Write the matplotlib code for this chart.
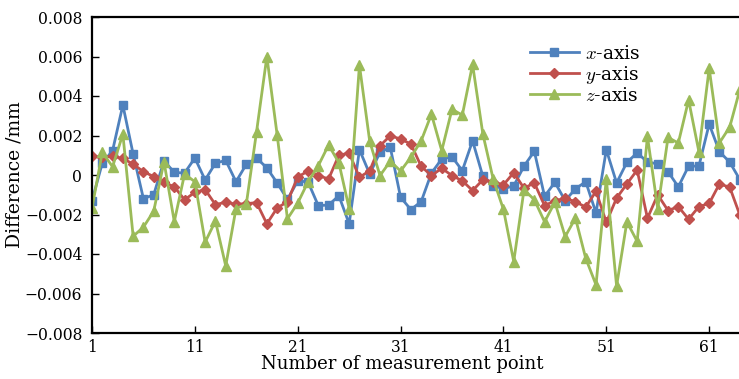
import numpy as np
import matplotlib
matplotlib.use("Agg")
import matplotlib.pyplot as plt

# measured differences, in micrometres (converted to mm below)
points = np.arange(1, 65)
x_um = [-1.3, 0.6, 1.23, 3.54, 1.06, -1.2, -1.0, 0.72, 0.13, 0.1,
        0.86, -0.25, 0.6, 0.74, -0.34, 0.54, 0.86, 0.36, -0.4, -1.24,
        -0.3, -0.35, -1.55, -1.52, -1.05, -2.47, 1.28, 0.05, 1.15, 1.4,
        -1.13, -1.75, -1.35, 0.1, 0.81, 0.92, 0.22, 1.73, -0.07, -0.54,
        -0.69, -0.55, 0.45, 1.2, -1.08, -0.37, -1.3, -0.7, -0.34, -1.92,
        1.28, -0.4, 0.64, 1.12, 0.66, 0.56, 0.17, -0.6, 0.45, 0.45,
        2.58, 1.18, 0.65, -0.25]
y_um = [0.95, 0.9, 0.95, 0.84, 0.55, 0.17, -0.08, -0.37, -0.6, -1.25,
        -0.88, -0.74, -1.5, -1.38, -1.48, -1.45, -1.4, -2.47, -1.67, -1.35,
        -0.1, 0.2, -0.03, -0.2, 1.0, 1.11, -0.12, 0.22, 1.48, 1.99,
        1.82, 1.57, 0.44, -0.03, 0.34, -0.03, -0.29, -0.79, -0.24, -0.34,
        -0.5, 0.12, -0.67, -0.4, -1.55, -1.3, -1.18, -1.35, -1.63, -0.82,
        -2.4, -1.17, -0.45, 0.25, -2.19, -1.0, -1.8, -1.6, -2.24, -1.6,
        -1.44, -0.45, -0.62, -2.05]
z_um = [-1.68, 1.15, 0.42, 2.07, -3.1, -2.64, -1.83, 0.67, -2.36, 0.05,
        -0.34, -3.4, -2.33, -4.6, -1.7, -1.48, 2.2, 6.0, 2.03, -2.22,
        -1.42, -0.35, 0.47, 1.52, 0.62, -1.7, 5.56, 1.7, -0.03, 0.7,
        0.2, 0.9, 1.73, 3.08, 1.23, 3.33, 3.03, 5.6, 2.07, -0.2,
        -1.74, -4.38, -0.75, -1.25, -2.37, -1.38, -3.12, -2.18, -4.22, -5.56,
        -0.2, -5.62, -2.37, -3.36, 1.95, -1.7, 1.9, 1.62, 3.8, 1.18,
        5.4, 1.63, 2.43, 4.36]

x_ticks = [1, 11, 21, 31, 41, 51, 61]
y_ticks = [-0.008, -0.006, -0.004, -0.002, 0, 0.002, 0.004, 0.006, 0.008]
y_ticklabels = ["\u22120.008", "\u22120.006", "\u22120.004", "\u22120.002", "0",
                "0.002", "0.004", "0.006", "0.008"]

plt.rcParams['font.family'] = 'DejaVu Serif'
plt.rcParams['mathtext.fontset'] = 'cm'
plt.rcParams['font.size'] = 11.2

fig = plt.figure(figsize=(7.39, 3.79), dpi=100)
ax = fig.add_axes([92 / 739, 1 - 333 / 379, 1 - 92 / 739, 316 / 379])

lw = 2.0
ax.plot(points, np.array(x_um) / 1000, color='#4F81BD', lw=lw, marker='s',
        markersize=5.5, label='$x$-axis')
ax.plot(points, np.array(y_um) / 1000, color='#C0504D', lw=lw, marker='D',
        markersize=5, label='$y$-axis')
ax.plot(points, np.array(z_um) / 1000, color='#9BBB59', lw=lw, marker='^',
        markersize=7.5, label='$z$-axis')

ax.set_xlim(1, 63.9)
ax.set_ylim(-0.008, 0.008)
ax.set_xticks(x_ticks)
ax.set_yticks(y_ticks)
ax.set_yticklabels(y_ticklabels)
ax.tick_params(direction='in', length=5, width=1, top=False, right=False)
ax.tick_params(axis='y', pad=7)
ax.tick_params(axis='x', pad=4)

for side in ['left', 'bottom', 'top']:
    ax.spines[side].set_linewidth(1.6)
ax.spines['right'].set_visible(False)

ax.set_xlabel('Number of measurement point', fontsize=13)
ax.xaxis.set_label_coords(0.48, -0.07)
ax.set_ylabel('Difference /mm', fontsize=13.5, labelpad=1)

ax.legend(loc='upper left', bbox_to_anchor=(0.665, 0.935), frameon=False,
          fontsize=13.5, handlelength=2.6, handletextpad=0.35,
          labelspacing=0.05, borderaxespad=0)

fig.savefig('out.png', dpi=100)
